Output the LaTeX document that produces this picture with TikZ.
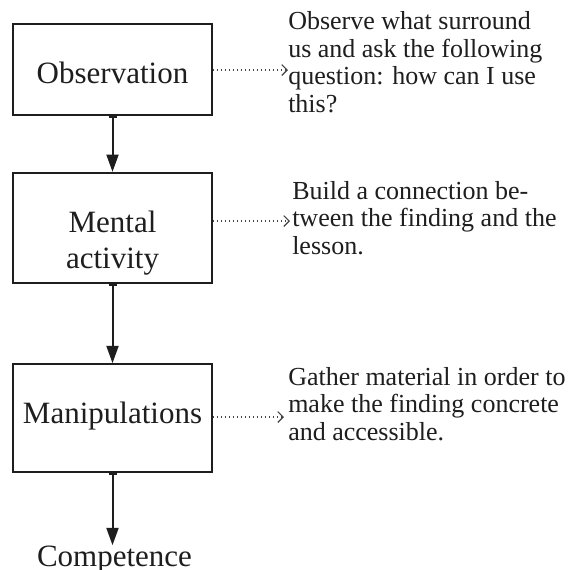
\documentclass[tikz,border=0pt]{standalone}
\usepackage{fontspec}
\setmainfont{Liberation Serif}
\usetikzlibrary{arrows.meta}
\definecolor{ink}{HTML}{1E1E1E}
\definecolor{dotc}{HTML}{444444}
\begin{document}
\begin{tikzpicture}[x=0.75pt,y=-0.75pt,
  box/.style={draw=ink,line width=1.3pt,inner sep=0pt,minimum width=149.25pt},
  boxtext/.style={inner sep=0pt,text=ink,align=center,font=\fontsize{23.25}{27}\selectfont},
  sidetext/.style={inner sep=0pt,text=ink,align=left,anchor=base west,font=\fontsize{19.5}{20.6}\selectfont},
  flow/.style={draw=ink,line width=1.5pt,{Bar[width=6pt,line width=1.5pt]}-{Triangle[length=13pt,width=9pt]}},
  dotarrow/.style={draw=dotc,line width=1pt,dotted,-{Straight Barb[length=4pt,width=8pt,line width=0.9pt]}}
]
\useasboundingbox (0,0) rectangle (571,569);
\fill[white] (0,0) rectangle (571,569);
% boxes
\node[box,minimum height=68.25pt] (b1) at (112.5,69.5) {};
\node[box,minimum height=82.7pt] (b2) at (112.5,227.85) {};
\node[box,minimum height=81.2pt] (b3) at (112.5,418.15) {};
% box texts
\node[boxtext,anchor=base] (l1) at (112.5,83) {Observation};
\node[boxtext,anchor=base] (l2) at (112.5,268) {Mental\\activity};
\node[boxtext,anchor=base] (l3) at (112.5,423) {Manipulations};
\node[boxtext,anchor=base] (c) at (114.5,566) {Competence};
% flow arrows
\draw[flow] (b1.south) -- (b2.north);
\draw[flow] (b2.south) -- (b3.north);
\draw[flow] (b3.south) -- (b3.south |- c.north);
% side texts
\node[sidetext] (t1) at (288,112) {Observe what surround\\us and ask the following\\question: how can I use\\this?};
\node[sidetext] (t2) at (292,254) {Build a connection be-\\tween the finding and the\\lesson.};
\node[sidetext] (t3) at (288,440) {Gather material in order to\\make the finding concrete\\and accessible.};
% dotted connectors
\coordinate (e1) at (288,70);
\coordinate (e2) at (290,221);
\coordinate (e3) at (284,417);
\draw[dotarrow] (b1.east |- e1) -- (e1);
\draw[dotarrow] (b2.east |- e2) -- (e2);
\draw[dotarrow] (b3.east |- e3) -- (e3);
\end{tikzpicture}
\end{document}
